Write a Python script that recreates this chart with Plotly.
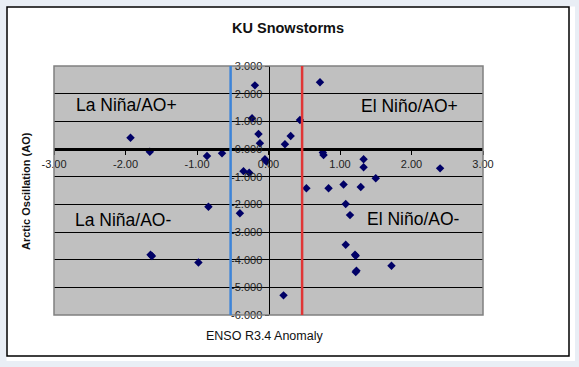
import plotly.graph_objects as go

# ---- data (ENSO R3.4 anomaly vs Arctic Oscillation, KU snowstorms) ----
enso = [-1.93, -1.66, -0.86, -0.65, -0.19, -0.23, -0.14, -0.12, -0.05, -0.03,
        -0.35, -0.27, -0.84, -0.40, -1.65, -1.63, -0.98, 0.21, 0.23, 0.31,
        0.44, 0.72, 0.76, 0.77, 1.33, 1.33, 2.40, 1.50, 0.53, 0.84,
        1.05, 1.29, 1.08, 1.14, 1.08, 1.21, 1.22, 1.23, 1.22, 1.72]
ao = [0.41, -0.10, -0.25, -0.15, 2.30, 1.11, 0.54, 0.21, -0.37, -0.45,
      -0.80, -0.86, -2.09, -2.32, -3.82, -3.87, -4.10, -5.29, 0.17, 0.47,
      1.05, 2.41, -0.13, -0.22, -0.37, -0.66, -0.70, -1.06, -1.42, -1.42,
      -1.28, -1.37, -1.99, -2.39, -3.46, -3.82, -3.86, -4.40, -4.45, -4.22]

x_ticks = [-3, -2, -1, 0, 1, 2, 3]
x_tick_labels = ["-3.00", "-2.00", "-1.00", "0.00", "1.00", "2.00", "3.00"]
y_ticks = [3, 2, 1, 0, -1, -2, -3, -4, -5, -6]
y_tick_labels = ["3.000", "2.000", "1.000", "0.000", "-1.000", "-2.000",
                 "-3.000", "-4.000", "-5.000", "-6.000"]

W, H = 579, 367
L, R, T, B = 54, 483, 66, 315  # plot area in pixels


def px(x):
    return (x - L) / (R - L)


def py(y):
    return (B - y) / (B - T)


fig = go.Figure()
fig.add_trace(go.Scatter(
    x=enso, y=ao, mode="markers",
    marker=dict(symbol="diamond", size=6.5, color="#000066"),
    showlegend=False, cliponaxis=False,
))

shapes = []
blue_bg = "#E9EEF5"
# light surroundings outside the chart frame
for (x0, y0, x1, y1) in [(0, 0, W, 6.5), (0, 0, 6.5, H), (575, 0, W, H), (0, 361, W, H)]:
    shapes.append(dict(type="rect", xref="paper", yref="paper",
                       x0=px(x0), x1=px(x1), y0=py(y1), y1=py(y0),
                       fillcolor=blue_bg, line=dict(width=0), layer="below"))
# chart frame
shapes.append(dict(type="rect", xref="paper", yref="paper",
                   x0=px(7), x1=px(569), y0=py(356), y1=py(7),
                   fillcolor="rgba(0,0,0,0)", line=dict(color="black", width=1.5)))
# plot area border
shapes.append(dict(type="rect", xref="paper", yref="paper",
                   x0=0, x1=1, y0=0, y1=1,
                   fillcolor="rgba(0,0,0,0)", line=dict(color="#808080", width=1.5)))
# divider lines
shapes.append(dict(type="line", xref="x", yref="paper", x0=-0.53, x1=-0.53, y0=0, y1=1,
                   line=dict(color="#3D84D8", width=2.5)))
shapes.append(dict(type="line", xref="x", yref="paper", x0=0.47, x1=0.47, y0=0, y1=1,
                   line=dict(color="#E03535", width=2.5)))

FAM = "Liberation Sans, Arial, sans-serif"
quad_font = dict(family=FAM, size=17.5, color="black")
C = dict(showarrow=False, xanchor="center", yanchor="middle")
annotations = [
    dict(x=-1.99, y=1.59, text="La Niña/AO+", font=quad_font, **C),
    dict(x=-2.04, y=-2.57, text="La Niña/AO-", font=quad_font, **C),
    dict(x=1.97, y=1.55, text="El Niño/AO+", font=quad_font, **C),
    dict(x=2.03, y=-2.53, text="El Niño/AO-", font=quad_font, **C),
    dict(xref="paper", yref="paper", x=px(288), y=py(28), text="<b>KU Snowstorms</b>",
         font=dict(family=FAM, size=14.5, color="#111"), **C),
    dict(xref="paper", yref="paper", x=px(264), y=py(336), text="ENSO R3.4 Anomaly",
         font=dict(family=FAM, size=12.5, color="#111"), **C),
    dict(xref="paper", yref="paper", x=px(26), y=py(191), text="<b>Arctic Oscillation (AO)</b>",
         textangle=-90, font=dict(family=FAM, size=11, color="#111"), **C),
]

tick_font = dict(family=FAM, size=11, color="#222")

fig.update_layout(
    width=W, height=H,
    margin=dict(l=L, r=W - R, t=T, b=H - B, pad=0),
    paper_bgcolor="white",
    plot_bgcolor="#C0C0C0",
    shapes=shapes,
    annotations=annotations,
    showlegend=False,
    xaxis=dict(range=[-3, 3], tickvals=x_ticks, ticktext=x_tick_labels,
               showgrid=False, zeroline=False,
               showline=True, linecolor="black", linewidth=3,
               anchor="free", position=6 / 9,
               ticks="outside", ticklen=4, tickcolor="black", tickfont=tick_font),
    yaxis=dict(range=[-6, 3], tickvals=y_ticks, ticktext=y_tick_labels,
               showgrid=True, gridcolor="black", gridwidth=1, zeroline=False,
               showline=True, linecolor="black", linewidth=1,
               anchor="free", position=0.5,
               ticks="outside", ticklen=4, tickcolor="black", tickfont=tick_font),
)

fig.write_html("out.html",
               config={"displayModeBar": False},
               post_script="document.body.style.margin='0';document.body.style.background='#E9EEF5';")
